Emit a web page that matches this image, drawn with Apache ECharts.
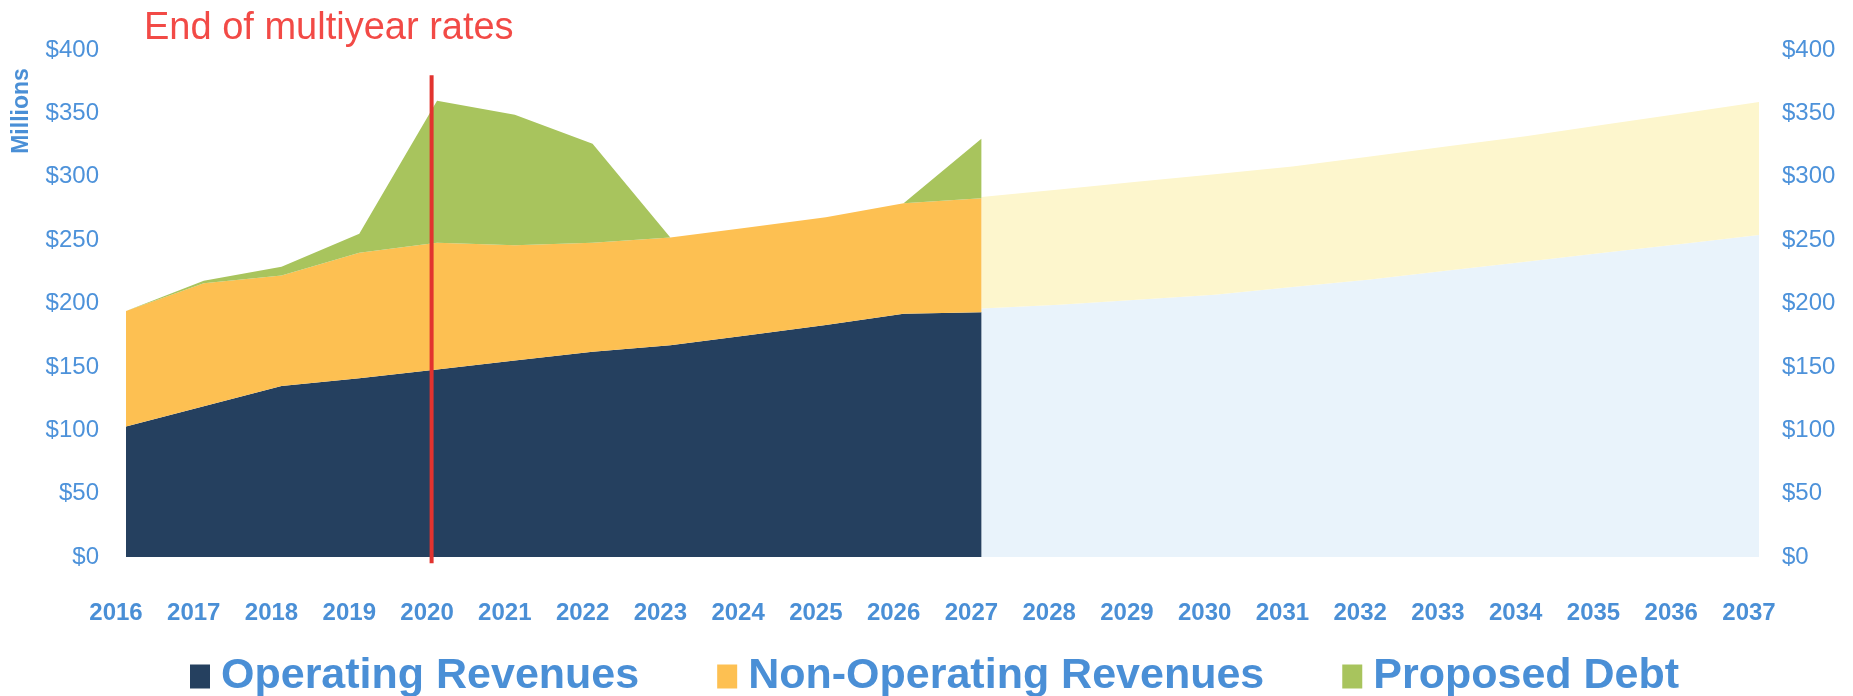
<!DOCTYPE html>
<html>
<head>
<meta charset="utf-8">
<script src="https://cdn.jsdelivr.net/npm/echarts@6/dist/echarts.min.js"></script>
<style>
  html, body { margin: 0; padding: 0; background: #fff; }
  #chart { width: 1853px; height: 696px; }
</style>
</head>
<body>
<div id="chart"></div>
<script>
const years = ['2016', '2017', '2018', '2019', '2020', '2021', '2022', '2023', '2024', '2025', '2026',
  '2027', '2028', '2029', '2030', '2031', '2032', '2033', '2034', '2035', '2036', '2037']

// actuals / forecast under multiyear rates (2016-2027)
const operating = [103, 119, 135, 141, 148, 155, 162, 167, 175, 183, 192, 193]
const nonOperating = [91, 97, 87, 99, 100, 91, 86, 85, 85, 85, 87, 90]
const proposedDebt = [0, 2, 7, 15, 112, 103, 78, 0, 0, 0, 0, 47]

// faded projection (2027-2037)
const projOperating = [196, 199, 203, 207, 213, 219, 226, 233, 240, 247, 254]
const projNonOperating = [88, 91, 93, 95, 95, 97, 98, 99, 101, 103, 105]

// red marker "End of multiyear rates" (position in years, height in $M)
const markerYear = [2019.93, 2019.93]
const markerValue = [-5, 380]

const blue = '#4a8fd6'
const font = '"Liberation Sans", Arial, sans-serif'

// pad a short series out to the full year list
const padEnd = arr => arr.concat(years.slice(arr.length).map(() => '-'))
const padStart = arr => years.slice(0, years.length - arr.length).map(() => '-').concat(arr)

const chart = echarts.init(document.getElementById('chart'))

const areaSeries = (name, data, stack, color) => ({
  name: name,
  type: 'line',
  stack: stack,
  data: data,
  symbol: 'none',
  lineStyle: { width: 0 },
  areaStyle: { color: color, opacity: 1 },
  itemStyle: { color: color },
  animation: false
})

const yAxisBase = {
  type: 'value',
  min: 0,
  max: 400,
  interval: 50,
  axisLine: { show: false },
  axisTick: { show: false },
  splitLine: { show: false },
  axisLabel: {
    formatter: v => '$' + v,
    color: '#4d92da',
    fontSize: 24,
    fontFamily: font
  }
}

chart.setOption({
  backgroundColor: '#fff',
  grid: { left: 126, right: 94, top: 50, bottom: 139 },
  xAxis: [
    {
      type: 'category',
      data: years,
      boundaryGap: false,
      axisLine: { show: false },
      axisTick: { show: false },
      splitLine: { show: false },
      axisLabel: {
        interval: 0,
        color: blue,
        fontSize: 24,
        fontWeight: 'bold',
        fontFamily: font,
        margin: 44,
        padding: [0, 20, 0, 0]
      }
    },
    {
      // hidden numeric axis, only used to place the red marker between years
      type: 'value',
      min: +years[0],
      max: +years[years.length - 1],
      show: false
    }
  ],
  yAxis: [
    Object.assign({}, yAxisBase, { position: 'left', axisLabel: Object.assign({}, yAxisBase.axisLabel, { margin: 27 }) }),
    Object.assign({}, yAxisBase, { position: 'right', axisLabel: Object.assign({}, yAxisBase.axisLabel, { margin: 23 }) })
  ],
  legend: {
    data: ['Operating Revenues', 'Non-Operating Revenues', 'Proposed Debt'],
    left: 185,
    top: 650,
    icon: 'rect',
    itemWidth: 20,
    itemHeight: 24,
    itemGap: 78,
    textStyle: {
      color: blue,
      fontSize: 43,
      fontWeight: 'bold',
      fontFamily: font,
      padding: [0, 0, 0, 6]
    }
  },
  graphic: [
    {
      type: 'text',
      left: 144,
      top: 10,
      style: { text: 'End of multiyear rates', fill: '#f24a46', font: '38px ' + font }
    },
    {
      type: 'text',
      x: 22,
      y: 111,
      rotation: Math.PI / 2,
      style: {
        text: 'Millions',
        fill: blue,
        font: 'bold 23px ' + font,
        align: 'center',
        verticalAlign: 'middle'
      }
    }
  ],
  series: [
    areaSeries('Projected Operating', padStart(projOperating), 'proj', '#e9f3fb'),
    areaSeries('Projected Non-Operating', padStart(projNonOperating), 'proj', '#fdf6cd'),
    areaSeries('Operating Revenues', padEnd(operating), 'actual', '#25405f'),
    areaSeries('Non-Operating Revenues', padEnd(nonOperating), 'actual', '#fdc052'),
    areaSeries('Proposed Debt', padEnd(proposedDebt), 'actual', '#a8c45d'),
    {
      name: 'End of multiyear rates',
      type: 'line',
      xAxisIndex: 1,
      data: markerYear.map((x, i) => [x, markerValue[i]]),
      symbol: 'none',
      clip: false,
      lineStyle: { color: '#e2332f', width: 4 },
      animation: false
    }
  ]
})
</script>
</body>
</html>
